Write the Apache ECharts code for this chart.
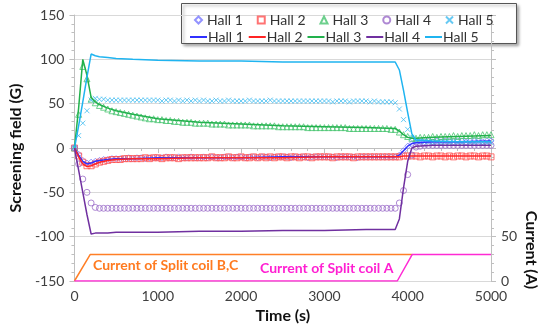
<!DOCTYPE html>
<html>
<head>
<meta charset="UTF-8">
<title>Screening field</title>
<script src="https://cdn.jsdelivr.net/npm/echarts@6.0.0/dist/echarts.min.js"></script>
<style>
  html, body { margin: 0; padding: 0; background: #fff; }
  #main { width: 545px; height: 329px; }
</style>
</head>
<body>
<div id="main"></div>
<script>
// time of the marker samples (s)
var markT = [
  0, 50, 100, 150, 200, 250, 300, 350, 400, 450,
  500, 550, 600, 650, 700, 750, 800, 850, 900, 950,
  1000, 1050, 1100, 1150, 1200, 1250, 1300, 1350, 1400, 1450,
  1500, 1550, 1600, 1650, 1700, 1750, 1800, 1850, 1900, 1950,
  2000, 2050, 2100, 2150, 2200, 2250, 2300, 2350, 2400, 2450,
  2500, 2550, 2600, 2650, 2700, 2750, 2800, 2850, 2900, 2950,
  3000, 3050, 3100, 3150, 3200, 3250, 3300, 3350, 3400, 3450,
  3500, 3550, 3600, 3650, 3700, 3750, 3800, 3850, 3900, 3950,
  4000, 4050, 4100, 4150, 4200, 4250, 4300, 4350, 4400, 4450,
  4500, 4550, 4600, 4650, 4700, 4750, 4800, 4850, 4900, 4950,
  5000
];
var hall1Marks = [
  0, -7, -14, -17, -16, -15, -14, -13, -13, -12,
  -12, -12, -12, -11, -12, -11, -11, -12, -11, -11,
  -11, -11, -10, -11, -11, -10, -11, -11, -10, -11,
  -11, -10, -11, -10, -11, -11, -10, -10, -11, -10,
  -10, -11, -10, -10, -11, -10, -10, -11, -10, -10,
  -10, -10, -11, -10, -10, -10, -11, -10, -10, -10,
  -10, -10, -10, -11, -10, -10, -10, -10, -11, -10,
  -10, -10, -10, -10, -10, -10, -10, -10, -8, -3,
  2, 5, 6, 7, 7, 8, 7, 8, 7, 8,
  8, 7, 8, 8, 7, 8, 8, 8, 7, 8,
  8
];
var hall2Marks = [
  0, -9, -16, -20, -20, -18, -16, -15, -14, -13,
  -13, -13, -12, -12, -12, -12, -12, -11, -12, -11,
  -11, -12, -11, -11, -11, -12, -11, -11, -11, -11,
  -11, -11, -11, -10, -11, -11, -11, -10, -11, -11,
  -10, -11, -11, -10, -11, -10, -11, -10, -11, -10,
  -10, -11, -10, -10, -11, -10, -10, -11, -10, -10,
  -10, -10, -11, -10, -10, -10, -10, -11, -10, -10,
  -10, -10, -10, -10, -10, -10, -10, -10, -10, -9,
  -9, -9, -9, -10, -9, -9, -10, -9, -9, -10,
  -9, -10, -9, -9, -10, -9, -9, -10, -9, -9,
  -10
];
var hall3Marks = [
  0, 38, 92, 78, 55, 51, 48, 46, 44, 42,
  41, 40, 39, 38, 37, 36, 35, 34, 33, 33,
  32, 32, 31, 31, 30, 30, 29, 29, 29, 28,
  28, 28, 28, 27, 27, 27, 27, 26, 26, 26,
  26, 26, 26, 25, 25, 25, 25, 25, 25, 24,
  24, 24, 24, 24, 24, 24, 23, 23, 23, 23,
  23, 23, 23, 23, 23, 23, 22, 22, 22, 22,
  22, 22, 22, 22, 22, 22, 21, 21, 18, 15,
  13, 11, 11, 12, 12, 12, 13, 12, 13, 13,
  13, 14, 13, 14, 14, 14, 15, 14, 15, 15,
  15
];
var hall4Marks = [
  0, -18, -35, -50, -62, -67, -68, -68, -68, -68,
  -68, -68, -68, -68, -68, -68, -68, -68, -68, -68,
  -68, -68, -68, -68, -68, -68, -68, -68, -68, -68,
  -68, -68, -68, -68, -68, -68, -68, -68, -68, -68,
  -68, -68, -68, -68, -68, -68, -68, -68, -68, -68,
  -68, -68, -68, -68, -68, -68, -68, -68, -68, -68,
  -68, -68, -68, -68, -68, -68, -68, -68, -68, -68,
  -68, -68, -68, -68, -68, -68, -68, -68, -62, -48,
  -30, -8, 1, 2, 3, 3, 3, 3, 3, 3,
  3, 3, 3, 3, 3, 3, 3, 3, 3, 3,
  3
];
var hall5Marks = [
  0, 14, 28, 42, 54, 56, 55, 55, 54, 54,
  54, 54, 54, 54, 54, 54, 54, 54, 54, 54,
  54, 53, 54, 54, 53, 54, 53, 54, 53, 54,
  53, 54, 53, 53, 54, 53, 53, 54, 53, 53,
  53, 53, 54, 53, 53, 53, 53, 54, 53, 53,
  53, 53, 53, 53, 53, 53, 53, 53, 53, 53,
  53, 53, 52, 53, 53, 53, 52, 53, 53, 53,
  53, 52, 53, 52, 52, 52, 52, 51, 44, 32,
  21, 12, 8, 8, 7, 7, 6, 7, 6, 7,
  6, 7, 6, 6, 7, 6, 6, 7, 6, 6,
  6
];

// time of the line vertices (s)
var lineT = [0, 50, 100, 150, 200, 250, 300, 400, 500, 700, 1000, 1500, 2000, 2500, 3000, 3500, 3850, 3900, 3950, 4000, 4050, 4100, 4300, 4600, 5000];
var hall1Line = [0, -8, -15, -18, -17, -15, -14, -13, -12, -12, -11, -11, -11, -10, -10, -10, -10, -8, -3, 2, 5, 6, 7, 7, 8];
var hall2Line = [0, -10, -18, -21, -20, -18, -16, -14, -13, -12, -12, -11, -11, -11, -10, -10, -10, -10, -9, -9, -9, -9, -9, -9, -9];
var hall3Line = [0, 45, 100, 82, 57, 52, 49, 45, 42, 38, 33, 29, 27, 25, 24, 23, 22, 19, 15, 12, 11, 11, 12, 13, 14];
var hall4Line = [0, -25, -50, -75, -97, -96, -96, -96, -95, -95, -95, -94, -94, -93, -93, -92, -92, -80, -45, -15, 0, 2, 3, 3, 3];
var hall5Line = [0, 25, 52, 80, 106, 104, 103, 102, 101, 100, 99, 98, 98, 97, 97, 97, 97, 88, 65, 40, 16, 9, 8, 7, 7];

// coil currents (A)
var coilBCT = [0, 190, 4055];
var coilBC = [0, 30, 30];
var coilAT = [0, 3875, 4055, 5000];
var coilA = [0, 0, 30, 30];

var hallNames = ['Hall 1', 'Hall 2', 'Hall 3', 'Hall 4', 'Hall 5'];
var markColors = ['#7878ff', '#ff5050', '#48c470', '#9a6ac8', '#40bcf0'];
var lineColors = ['#3030ff', '#ff2424', '#22b14c', '#7030a0', '#1fb4f0'];
var symbols = ['diamond', 'rect', 'triangle', 'circle', 'path://M0,0L10,10M10,0L0,10'];

function pairs(t, v) {
  return t.map(function (x, i) { return [x, v[i]]; });
}

var markVals = [hall1Marks, hall2Marks, hall3Marks, hall4Marks, hall5Marks];
var lineVals = [hall1Line, hall2Line, hall3Line, hall4Line, hall5Line];

var series = [];
markVals.forEach(function (v, i) {
  series.push({
    name: hallNames[i],
    type: 'scatter',
    data: pairs(markT, v),
    symbol: symbols[i],
    symbolSize: i === 4 ? 5 : 6,
    itemStyle: { color: 'rgba(255,255,255,0)', borderColor: markColors[i], borderWidth: 1 }
  });
});
lineVals.forEach(function (v, i) {
  series.push({
    name: hallNames[i] + ' line',
    type: 'line',
    data: pairs(lineT, v),
    symbol: 'none',
    lineStyle: { color: lineColors[i], width: 1.5 },
    itemStyle: { color: lineColors[i] }
  });
});
series.push({
  name: 'coil BC', type: 'line', yAxisIndex: 1, symbol: 'none',
  data: pairs(coilBCT, coilBC),
  lineStyle: { color: '#ff7f27', width: 1.5 }
});
series.push({
  name: 'coil A', type: 'line', yAxisIndex: 1, symbol: 'none',
  data: pairs(coilAT, coilA),
  lineStyle: { color: '#ff2ad4', width: 1.5 }
});

var chart = echarts.init(document.getElementById('main'));
chart.setOption({
  animation: false,
  textStyle: { fontFamily: 'Lato' },
  grid: { left: 73, right: 54, top: 15, bottom: 48 },
  legend: [{
    data: hallNames,
    left: 189, top: 8,
    itemWidth: 7, itemHeight: 7, itemGap: 14,
    textStyle: { fontSize: 14, color: '#333' }
  }, {
    data: hallNames.map(function (n) { return { name: n + ' line', icon: 'rect' }; }),
    formatter: function (n) { return n.replace(' line', ''); },
    left: 185, top: 25,
    itemWidth: 17, itemHeight: 2, itemGap: 5,
    textStyle: { fontSize: 14, color: '#333', padding: [0, 0, 0, -4] }
  }],
  xAxis: {
    type: 'value', min: 0, max: 5000, interval: 1000,
    name: 'Time (s)', nameLocation: 'middle', nameGap: 27,
    nameTextStyle: { fontSize: 16, fontWeight: 'bold', color: '#111' },
    axisLine: { lineStyle: { color: '#bfbfbf' } },
    axisTick: { show: true, length: 5, lineStyle: { color: '#bfbfbf' } },
    minorTick: { show: true, splitNumber: 5, length: 3, lineStyle: { color: '#bfbfbf' } },
    axisLabel: { fontSize: 14, color: '#404040', margin: 8, formatter: function (v) { return String(v); } },
    splitLine: { show: false }
  },
  yAxis: [{
    type: 'value', min: -150, max: 150, interval: 50,
    name: 'Screening field (G)', nameLocation: 'middle', nameGap: 48, nameRotate: 90,
    nameTextStyle: { fontSize: 16, fontWeight: 'bold', color: '#111' },
    axisLine: { show: true, lineStyle: { color: '#bfbfbf' } },
    axisTick: { show: true, length: 5, lineStyle: { color: '#bfbfbf' } },
    minorTick: { show: true, splitNumber: 5, length: 3, lineStyle: { color: '#bfbfbf' } },
    axisLabel: { fontSize: 14, color: '#404040', margin: 10 },
    splitLine: { lineStyle: { color: '#d9d9d9' } }
  }, {
    type: 'value', min: 0, max: 300, interval: 50, position: 'right',
    axisLine: { show: true, lineStyle: { color: '#bfbfbf' } },
    axisTick: { show: true, length: 5, lineStyle: { color: '#bfbfbf' } },
    minorTick: { show: true, splitNumber: 5, length: 3, lineStyle: { color: '#bfbfbf' } },
    axisLabel: {
      fontSize: 14, color: '#404040', margin: 10,
      formatter: function (v) { return v <= 50 ? String(v) : ''; }
    },
    splitLine: { show: false }
  }],
  graphic: [{
    type: 'rect', left: 181, top: 3, z: -1,
    shape: { width: 335, height: 40 },
    style: { fill: '#fff', stroke: '#555', lineWidth: 1, shadowBlur: 3, shadowOffsetX: 2, shadowOffsetY: 2, shadowColor: 'rgba(0,0,0,0.35)' }
  }, {
    type: 'text', left: 93, top: 258,
    style: { text: 'Current of Split coil B,C', fill: '#ff7a1f', font: 'bold 14px Lato' }
  }, {
    type: 'text', left: 260, top: 261,
    style: { text: 'Current of Split coil A', fill: '#ff1fd2', font: 'bold 14px Lato' }
  }, {
    type: 'text', x: 531, y: 250, rotation: -Math.PI / 2,
    style: { text: 'Current (A)', fill: '#111', font: 'bold 16px Lato', align: 'center', verticalAlign: 'middle' }
  }],
  series: series
});
</script>
</body>
</html>
